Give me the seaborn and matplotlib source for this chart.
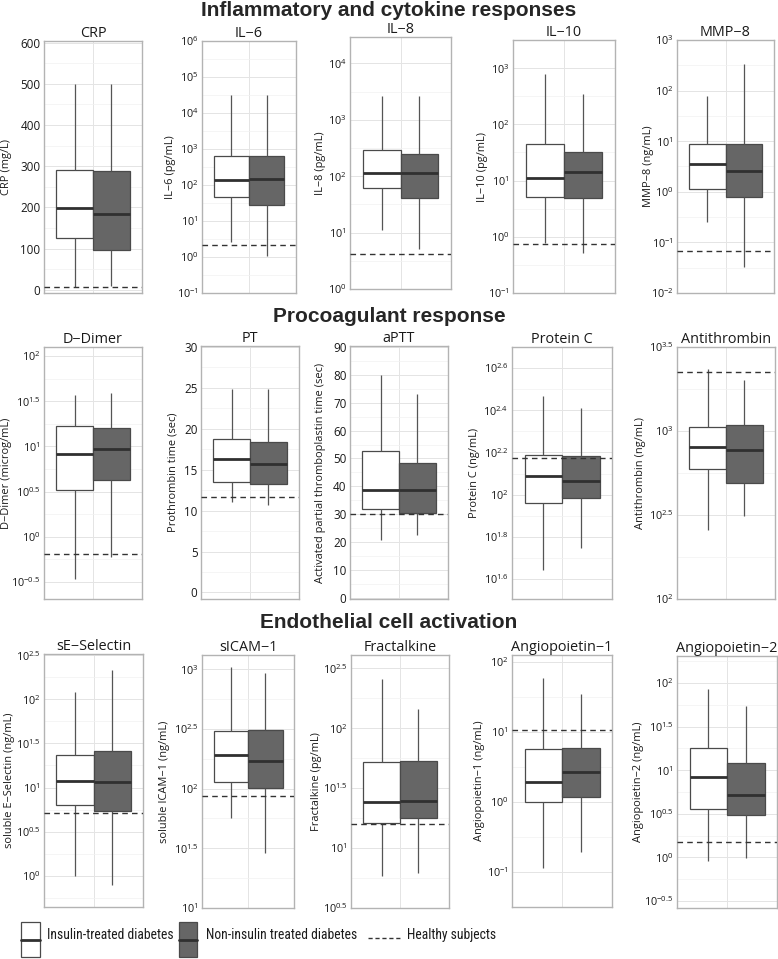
import numpy as np
import pandas as pd
import matplotlib
matplotlib.use("Agg")
import matplotlib.pyplot as plt
import seaborn as sns
from matplotlib import font_manager
from matplotlib.patches import Rectangle
from matplotlib.lines import Line2D
from matplotlib.ticker import FixedLocator, FixedFormatter

sns.set_theme(style="white")
plt.rcParams["font.family"] = ["Open Sans", "DejaVu Sans"]

# ---------------- data ----------------
panel_titles = ["CRP", "IL\u22126", "IL\u22128", "IL\u221210", "MMP\u22128",
                "D\u2212Dimer", "PT", "aPTT", "Protein C", "Antithrombin",
                "sE\u2212Selectin", "sICAM\u22121", "Fractalkine",
                "Angiopoietin\u22121", "Angiopoietin\u22122"]
y_labels = ["CRP (mg/L)", "IL\u22126 (pg/mL)", "IL\u22128 (pg/mL)", "IL\u221210 (pg/mL)",
            "MMP\u22128 (ng/mL)", "D\u2212Dimer (microg/mL)", "Prothrombin time (sec)",
            "Activated partial thromboplastin time (sec)", "Protein C (ng/mL)",
            "Antithrombin (ng/mL)", "soluble E\u2212Selectin (ng/mL)",
            "soluble ICAM\u22121 (ng/mL)", "Fractalkine (pg/mL)",
            "Angiopoietin\u22121 (ng/mL)", "Angiopoietin\u22122 (ng/mL)"]
section_titles = ["Inflammatory and cytokine responses", "Procoagulant response",
                  "Endothelial cell activation"]
groups = ["Insulin-treated diabetes", "Non-insulin treated diabetes"]
healthy_label = "Healthy subjects"

# five-number summaries: lower whisker, Q1, median, Q3, upper whisker
insulin_stats = [
    [6, 125, 198, 290, 500],
    [2.6, 45, 135, 650, 32000],
    [11.3, 62, 113, 290, 2700],
    [0.76, 5.0, 11, 45, 770],
    [0.25, 1.15, 3.5, 8.9, 78],
    [0.34, 3.3, 8.2, 17, 36.7],
    [11.0, 13.5, 16.3, 18.8, 24.9],
    [20.8, 32.0, 38.8, 52.8, 80.0],
    [44, 91, 122, 154, 294],
    [256, 590, 807, 1055, 2355],
    [1.0, 6.3, 12, 23.5, 120],
    [57, 113, 190, 306, 1040],
    [5.9, 16.1, 24, 52, 256],
    [0.114, 1.01, 1.9, 5.65, 58],
    [0.9, 3.6, 8.3, 18, 85],
]
noninsulin_stats = [
    [10, 97, 185, 288, 500],
    [1.1, 28, 145, 630, 32000],
    [5.1, 41, 113, 245, 2700],
    [0.52, 4.8, 14, 32, 345],
    [0.033, 0.78, 2.6, 8.7, 330],
    [0.6, 4.2, 9.3, 16, 38.6],
    [10.65, 13.2, 15.7, 18.4, 24.9],
    [22.5, 30.5, 38.6, 48.4, 73],
    [56, 96, 116, 152, 257],
    [313, 487, 766, 1093, 2000],
    [0.78, 5.4, 11.4, 25.9, 218],
    [29, 101, 172, 312, 925],
    [6.2, 17.9, 24.5, 53.5, 144],
    [0.19, 1.18, 2.7, 5.9, 34.5],
    [0.98, 3.1, 5.2, 12.1, 54],
]
healthy_values = [6, 2.1, 4.1, 0.74, 0.068, 0.65, 11.7, 30, 149, 2254,
                  5.2, 86, 15.8, 10.6, 1.51]

log_panels = [False, True, True, True, True, True, False, False, True, True,
              True, True, True, True, True]
# major ticks: values for linear panels, exponents of 10 for log panels
major_ticks = [
    [0, 100, 200, 300, 400, 500, 600],
    [-1, 0, 1, 2, 3, 4, 5, 6],
    [0, 1, 2, 3, 4],
    [-1, 0, 1, 2, 3],
    [-2, -1, 0, 1, 2, 3],
    [-0.5, 0, 0.5, 1, 1.5, 2],
    [0, 5, 10, 15, 20, 25, 30],
    [0, 10, 20, 30, 40, 50, 60, 70, 80, 90],
    [1.6, 1.8, 2.0, 2.2, 2.4, 2.6],
    [2, 2.5, 3, 3.5],
    [0, 0.5, 1, 1.5, 2, 2.5],
    [1, 1.5, 2, 2.5, 3],
    [0.5, 1, 1.5, 2, 2.5],
    [-1, 0, 1, 2],
    [-0.5, 0, 0.5, 1, 1.5, 2],
]
y_limits = [
    (-8, 604), (-1, 6), (0, 4.47), (-1, 3.5), (-2, 3),
    (-0.69, 2.1), (-0.8, 30.1), (-0.5, 90.4), (1.505, 2.70), (2.0, 3.5),
    (-0.356, 2.515), (1.0, 3.12), (0.5, 2.61), (-1.5, 2.095), (-0.58, 2.31),
]

# ---------------- layout (pixels) ----------------
W, H = 778, 959
rects = [(44, 41, 142, 293), (202, 41, 296, 293), (350, 37, 451, 289),
         (513, 40, 615, 293), (677, 40, 774, 293),
         (44, 347, 142, 599), (201, 346, 299, 599), (350, 346, 448, 599),
         (512, 347, 612, 599), (677, 347, 775, 599),
         (44, 654, 143, 907), (202, 655, 294, 908), (351, 655, 449, 908),
         (512, 655, 612, 907), (677, 656, 777, 908)]
ylabel_x = [7, 170, 320, 482, 648, 7, 173, 320, 475, 641, 10, 165, 317, 480, 638]
section_y = [10, 316, 622]

box_colors = ["#ffffff", "#666666"]
edge_col = "#4a4a4a"
med_col = "#303030"
grid_major = "#e4e4e4"
grid_minor = "#f1f1f1"
border_col = "#b3b3b3"


def fmt_exp(e):
    return r"$\mathregular{10^{%s}}$" % (f"{e:g}")


def pick_font(cands):
    for fam, size in cands:
        try:
            font_manager.findfont(font_manager.FontProperties(family=fam),
                                  fallback_to_default=False)
            return fam, size
        except Exception:
            continue
    return "DejaVu Sans", 8.5


leg_family, leg_size = pick_font([("Liberation Sans Narrow", 10.0),
                                  ("Arial Narrow", 10.0),
                                  ("Roboto Condensed", 9.8),
                                  ("Liberation Sans", 8.4)])

fig = plt.figure(figsize=(W / 100, H / 100), dpi=100)
fig.patch.set_facecolor("white")

for i in range(15):
    x0, y0, x1, y1 = rects[i]
    ax = fig.add_axes([x0 / W, 1 - y1 / H, (x1 - x0) / W, (y1 - y0) / H])
    df = pd.DataFrame({
        "set": "all",
        "group": np.repeat(groups, 5),
        "value": np.concatenate([insulin_stats[i], noninsulin_stats[i]]),
    })
    sns.boxplot(data=df, x="set", y="value", hue="group", hue_order=groups,
                palette=box_colors, width=0.9, gap=0, saturation=1,
                whis=(0, 100), showfliers=False, linecolor=edge_col,
                linewidth=0.9, capwidths=0,
                medianprops={"color": med_col, "linewidth": 2.0},
                whiskerprops={"color": "#555555"},
                log_scale=True if log_panels[i] else None, legend=False, ax=ax)
    ax.axhline(healthy_values[i], color="#333333", lw=1.0, ls=(0, (4, 3)), zorder=5)

    ax.set_xlim(-0.6, 0.6)
    lo, hi = y_limits[i]
    t = np.array(major_ticks[i], dtype=float)
    step = t[1] - t[0]
    minor = np.concatenate([[t[0] - step / 2], (t[:-1] + t[1:]) / 2, [t[-1] + step / 2]])
    if log_panels[i]:
        ax.set_ylim(10 ** lo, 10 ** hi)
        ax.yaxis.set_major_locator(FixedLocator(10 ** t))
        ax.yaxis.set_major_formatter(FixedFormatter([fmt_exp(e) for e in t]))
        ax.yaxis.set_minor_locator(FixedLocator(10 ** minor))
        ax.yaxis.set_minor_formatter(FixedFormatter([""] * len(minor)))
        lab_size = 7.8
    else:
        ax.set_ylim(lo, hi)
        ax.yaxis.set_major_locator(FixedLocator(t))
        ax.yaxis.set_major_formatter(FixedFormatter([f"{v:g}" for v in t]))
        ax.yaxis.set_minor_locator(FixedLocator(minor))
        lab_size = 8.4

    ax.set_xticks([0])
    ax.set_xticklabels([])
    ax.set_xlabel("")
    ax.tick_params(axis="both", which="both", length=0, pad=2.5,
                   labelsize=lab_size, labelcolor="#1a1a1a")
    ax.grid(True, which="major", color=grid_major, lw=0.7)
    ax.grid(True, which="minor", axis="y", color=grid_minor, lw=0.5)
    ax.xaxis.grid(True, which="major", color=grid_major, lw=0.7)
    ax.set_axisbelow(True)
    for s in ax.spines.values():
        s.set_visible(True)
        s.set_color(border_col)
        s.set_linewidth(1.0)

    ax.set_title(panel_titles[i], fontsize=10.4, pad=3, color="#1a1a1a")
    ax.set_ylabel(y_labels[i], fontsize=7.9, color="#1a1a1a")
    ax.yaxis.set_label_coords((ylabel_x[i] - x0) / (x1 - x0), 0.5)
    ax.yaxis.label.set_verticalalignment("center")

for k, s in enumerate(section_titles):
    fig.text(389 / W, 1 - section_y[k] / H, s, ha="center", va="center",
             fontsize=15, fontweight="bold", family=["Liberation Sans", "DejaVu Sans"])

# ---------------- legend ----------------
leg_y0, leg_y1 = 922, 957
for (bx0, bx1), col in zip([(21, 40), (179, 197)], box_colors):
    fig.add_artist(Rectangle((bx0 / W, 1 - leg_y1 / H), (bx1 - bx0) / W,
                             (leg_y1 - leg_y0) / H, transform=fig.transFigure,
                             facecolor=col, edgecolor=edge_col, lw=0.9))
    fig.add_artist(Line2D([bx0 / W, bx1 / W], [1 - 939.5 / H] * 2,
                          transform=fig.transFigure, color=med_col, lw=2.0))
fig.add_artist(Line2D([368 / W, 400 / W], [1 - 938 / H] * 2, transform=fig.transFigure,
                      color="#333333", lw=1.0, ls=(0, (3, 2))))
for xt, txt in zip([47, 206, 407], groups + [healthy_label]):
    fig.text(xt / W, 1 - 935 / H, txt, ha="left", va="center", fontsize=leg_size,
             family=[leg_family, "DejaVu Sans"], color="#1a1a1a")

fig.savefig("out.png", dpi=100, facecolor="white")
